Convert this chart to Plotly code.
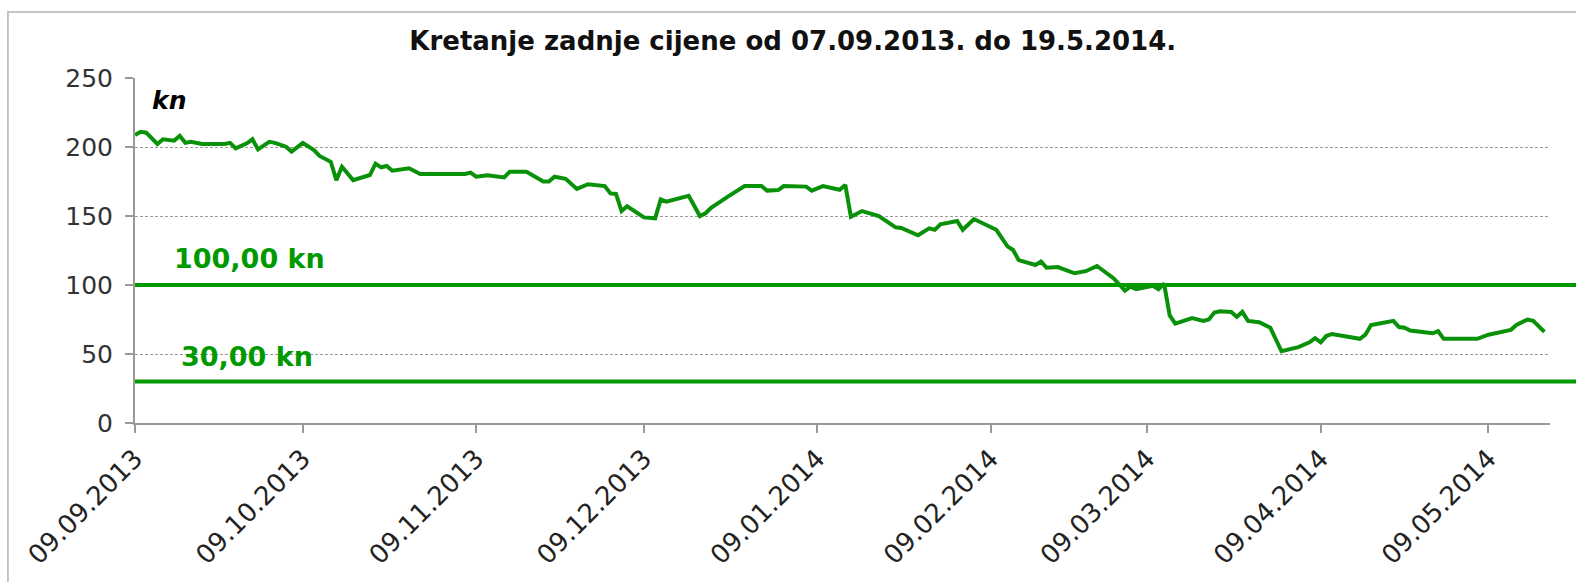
import plotly.graph_objects as go

# ---- data ----
dates = [
    "2013-09-09", "2013-09-10", "2013-09-11", "2013-09-12", "2013-09-13", "2013-09-14",
    "2013-09-16", "2013-09-17", "2013-09-18", "2013-09-19", "2013-09-21", "2013-09-25",
    "2013-09-26", "2013-09-27", "2013-09-29", "2013-09-30", "2013-10-01", "2013-10-03",
    "2013-10-04", "2013-10-06", "2013-10-07", "2013-10-09", "2013-10-11", "2013-10-12",
    "2013-10-14", "2013-10-15", "2013-10-16", "2013-10-18", "2013-10-21", "2013-10-22",
    "2013-10-23", "2013-10-24", "2013-10-25", "2013-10-28", "2013-10-30", "2013-11-07",
    "2013-11-08", "2013-11-09", "2013-11-11", "2013-11-14", "2013-11-15", "2013-11-18",
    "2013-11-19", "2013-11-21", "2013-11-22", "2013-11-23", "2013-11-25", "2013-11-27",
    "2013-11-29", "2013-12-02", "2013-12-03", "2013-12-04", "2013-12-05", "2013-12-06",
    "2013-12-09", "2013-12-11", "2013-12-12", "2013-12-13", "2013-12-17", "2013-12-19",
    "2013-12-20", "2013-12-21", "2013-12-24", "2013-12-27", "2013-12-30", "2013-12-31",
    "2014-01-02", "2014-01-03", "2014-01-07", "2014-01-08", "2014-01-10", "2014-01-12",
    "2014-01-13", "2014-01-14", "2014-01-15", "2014-01-17", "2014-01-20", "2014-01-23",
    "2014-01-24", "2014-01-27", "2014-01-29", "2014-01-30", "2014-01-31", "2014-02-03",
    "2014-02-04", "2014-02-06", "2014-02-10", "2014-02-12", "2014-02-13", "2014-02-14",
    "2014-02-17", "2014-02-18", "2014-02-19", "2014-02-21", "2014-02-24", "2014-02-26",
    "2014-02-28", "2014-03-03", "2014-03-05", "2014-03-06", "2014-03-07", "2014-03-10",
    "2014-03-11", "2014-03-12", "2014-03-13", "2014-03-14", "2014-03-17", "2014-03-19",
    "2014-03-20", "2014-03-21", "2014-03-22", "2014-03-24", "2014-03-25", "2014-03-26",
    "2014-03-27", "2014-03-29", "2014-03-31", "2014-04-02", "2014-04-05", "2014-04-07",
    "2014-04-08", "2014-04-09", "2014-04-10", "2014-04-11", "2014-04-14", "2014-04-16",
    "2014-04-17", "2014-04-18", "2014-04-20", "2014-04-22", "2014-04-23", "2014-04-24",
    "2014-04-25", "2014-04-27", "2014-04-29", "2014-04-30", "2014-05-01", "2014-05-07",
    "2014-05-09", "2014-05-13", "2014-05-14", "2014-05-16", "2014-05-17", "2014-05-19",
]
prices = [
    208.7, 211.0, 210.4, 206.3, 202.2, 205.6,
    204.6, 208.0, 203.0, 203.8, 202.2, 202.2,
    203.0, 199.0, 202.7, 205.6, 198.3, 203.8,
    203.0, 200.2, 196.6, 203.0, 197.8, 193.5,
    189.3, 176.0, 185.7, 176.0, 179.7, 188.0,
    185.3, 186.2, 182.8, 184.6, 180.4, 180.4,
    181.4, 178.5, 179.5, 178.0, 182.0, 182.0,
    179.7, 175.0, 175.0, 178.5, 177.0, 169.6,
    173.0, 171.7, 166.4, 166.0, 153.6, 157.0,
    149.0, 148.3, 162.0, 160.4, 164.7, 150.0,
    152.0, 156.0, 164.0, 171.7, 171.7, 168.4,
    168.8, 171.7, 171.3, 168.4, 171.7, 170.0,
    169.0, 172.5, 149.5, 153.6, 150.0, 141.8,
    141.3, 136.0, 141.0, 140.0, 144.0, 146.4,
    140.0, 147.8, 140.0, 128.0, 125.4, 118.0,
    114.5, 117.0, 112.5, 113.0, 108.5, 110.0,
    113.8, 104.8, 95.9, 98.8, 97.0, 99.5,
    97.0, 101.0, 78.0, 72.0, 76.0, 74.0,
    75.0, 80.0, 81.0, 80.5, 77.0, 80.5,
    74.0, 73.0, 69.0, 52.0, 55.0, 58.5,
    61.5, 58.5, 63.0, 64.5, 62.0, 61.0,
    64.0, 71.0, 72.5, 74.0, 69.5, 69.0,
    67.0, 66.0, 65.0, 66.5, 61.0, 61.0,
    64.0, 67.5, 71.0, 75.0, 74.0, 66.0,
]
tick_dates = ["2013-09-09", "2013-10-09", "2013-11-09", "2013-12-09", "2014-01-09",
              "2014-02-09", "2014-03-09", "2014-04-09", "2014-05-09"]
tick_labels = ["09.09.2013", "09.10.2013", "09.11.2013", "09.12.2013", "09.01.2014",
               "09.02.2014", "09.03.2014", "09.04.2014", "09.05.2014"]
ref_levels = [100, 30]
ref_labels = ["100,00 kn", "30,00 kn"]
title_text = "Kretanje zadnje cijene od 07.09.2013. do 19.5.2014."
unit_text = "kn"

GREEN_LINE = "#0a910a"
GREEN_REF = "#009900"
FONT = "DejaVu Sans"

fig = go.Figure()
fig.add_trace(go.Scatter(
    x=dates, y=prices, mode="lines",
    line=dict(color=GREEN_LINE, width=4),
    showlegend=False, hoverinfo="skip",
))

shapes = []
for lvl in ref_levels:
    shapes.append(dict(type="line", xref="paper", yref="y", x0=0, x1=1.03, y0=lvl, y1=lvl,
                       line=dict(color=GREEN_REF, width=4), layer="above"))
# outer chart border
shapes.append(dict(type="rect", xref="paper", yref="paper",
                   x0=-0.0898, x1=1.06, y0=-0.6, y1=1.191,
                   line=dict(color="#b4b4b4", width=1.5), layer="below"))

annotations = [
    dict(text="<b><i>" + unit_text + "</i></b>", xref="paper", yref="paper",
         x=0.0106, y=0.936, xanchor="left", yanchor="middle", showarrow=False,
         font=dict(family=FONT, size=25, color="#000000")),
    dict(text="<b>" + ref_labels[0] + "</b>", xref="paper", yref="paper",
         x=0.026, y=0.478, xanchor="left", yanchor="middle", showarrow=False,
         font=dict(family=FONT, size=27, color=GREEN_REF)),
    dict(text="<b>" + ref_labels[1] + "</b>", xref="paper", yref="paper",
         x=0.031, y=0.194, xanchor="left", yanchor="middle", showarrow=False,
         font=dict(family=FONT, size=27, color=GREEN_REF)),
]

fig.update_layout(
    width=1576, height=582,
    margin=dict(l=135, r=26, t=78, b=159, pad=0, autoexpand=False),
    paper_bgcolor="white", plot_bgcolor="white",
    title=dict(text="<b>" + title_text + "</b>", x=0.503, xanchor="center",
               y=1 - 41 / 582, yanchor="middle",
               font=dict(family=FONT, size=26, color="#111111")),
    shapes=shapes, annotations=annotations,
    xaxis=dict(type="date", range=["2013-09-09", "2014-05-20"], automargin=False,
               tickmode="array", tickvals=tick_dates, ticktext=tick_labels,
               tickangle=-45, ticks="outside", ticklen=8, tickcolor="#999999", tickwidth=1.5,
               showline=True, linecolor="#999999", linewidth=2,
               showgrid=False, zeroline=False, ticklabelstandoff=0,
               tickfont=dict(family=FONT, size=26, color="#222222")),
    yaxis=dict(range=[0, 250], tickmode="linear", tick0=0, dtick=50, automargin=False,
               ticks="outside", ticklen=8, tickcolor="#999999", tickwidth=1.5,
               showline=True, linecolor="#999999", linewidth=2,
               showgrid=True, gridcolor="#9a9a9a", gridwidth=1, griddash="3px,2px",
               zeroline=False, ticklabelstandoff=7,
               tickfont=dict(family=FONT, size=25, color="#333333")),
)

fig.write_html("out.html", config={"displayModeBar": False},
               post_script="document.body.style.margin='0';document.body.style.overflow='hidden';")
